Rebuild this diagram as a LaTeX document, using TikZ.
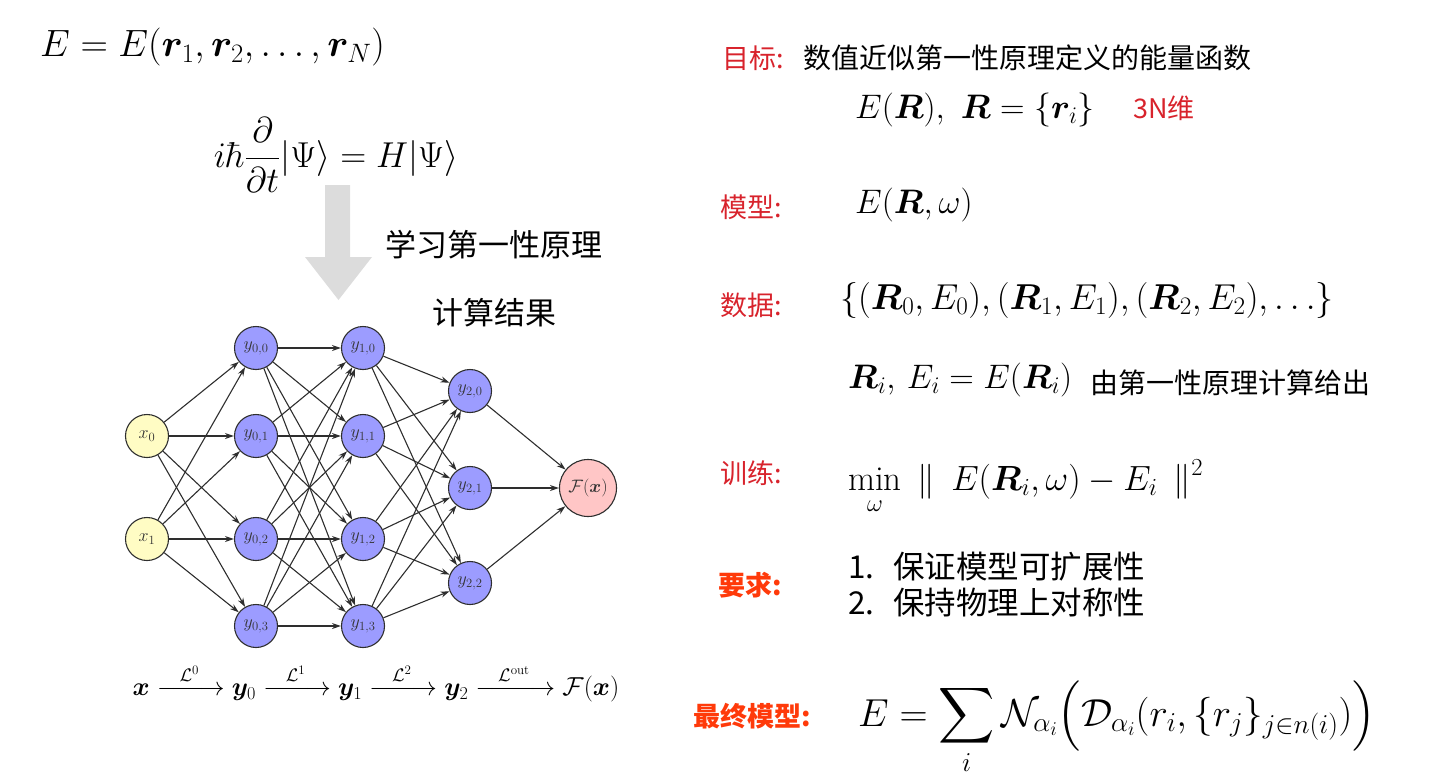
\RequirePackage{fix-cm}
\documentclass[tikz,border=0pt]{standalone}
\usepackage{amsmath,bm}
\DeclareFontShape{OMX}{cmex}{m}{n}{<->cmex10}{}
\usepackage{fontspec}
\newfontfamily\cjk{Noto Sans CJK SC}
\usetikzlibrary{arrows.meta}
\definecolor{lblred}{HTML}{D8232C}
\definecolor{lblorange}{HTML}{FF3A0A}
\definecolor{inyellow}{HTML}{FFFCC4}
\definecolor{hidblue}{HTML}{9C9CFF}
\definecolor{outpink}{HTML}{FFC6C6}
\definecolor{arrowgray}{HTML}{DCDCDC}
\definecolor{edgegray}{HTML}{2E2E2E}
\newcommand{\padarrow}[1]{\xrightarrow{\hspace{17pt}#1\hspace{17pt}}}
\tikzset{
  neuron/.style={circle, draw=edgegray, line width=1.1pt, minimum size=43pt, inner sep=0pt,
    font=\fontsize{18}{18}\selectfont, text=black!80},
  inp/.style={neuron, fill=inyellow},
  hid/.style={neuron, fill=hidblue},
  outn/.style={neuron, fill=outpink, minimum size=57pt},
  conn/.style={-{Stealth[length=9pt,width=6pt]}, line width=1.1pt, draw=edgegray},
  cjktext/.style={font=\cjk\fontsize{28}{28}\selectfont, anchor=west, inner sep=0pt},
  redlbl/.style={cjktext, text=lblred, font=\cjk\fontsize{27}{27}\selectfont},
  orglbl/.style={cjktext, text=lblorange, font=\cjk\bfseries\fontsize{27}{27}\selectfont},
  mathbig/.style={font=\fontsize{34}{40}\selectfont, inner sep=0pt},
}
\begin{document}
\begin{tikzpicture}[x=1pt,y=-1pt]
\useasboundingbox (0,0) rectangle (1445,776);

% left formulas
\node[mathbig, font=\fontsize{38}{44}\selectfont, anchor=west] (eq1) at (40,47) {$E = E(\bm r_1, \bm r_2, \ldots, \bm r_N)$};
\node[mathbig, font=\fontsize{36}{42}\selectfont] (eq2) at (336,155) {$\displaystyle i\hbar\frac{\partial}{\partial t}|\Psi\rangle = H|\Psi\rangle$};

% gray arrow
\fill[arrowgray] (325,185) -- (350,185) -- (350,257) -- (372,257) -- (338.5,300) -- (305,257) -- (325,257) -- cycle;
\node[cjktext, font=\cjk\fontsize{31}{31}\selectfont] (learn) at (385,245) {学习第一性原理};
\node[cjktext, font=\cjk\fontsize{31}{31}\selectfont] (calc) at (432,313) {计算结果};

% network
\node[inp] (x0) at (147,436) {$x_0$};
\node[inp] (x1) at (147,539) {$x_1$};
\node[hid] (y00) at (256,348) {$y_{0,0}$};
\node[hid] (y01) at (256,436) {$y_{0,1}$};
\node[hid] (y02) at (256,539) {$y_{0,2}$};
\node[hid] (y03) at (256,626) {$y_{0,3}$};
\node[hid] (y10) at (363,348) {$y_{1,0}$};
\node[hid] (y11) at (363,436) {$y_{1,1}$};
\node[hid] (y12) at (363,539) {$y_{1,2}$};
\node[hid] (y13) at (363,626) {$y_{1,3}$};
\node[hid] (y20) at (470,391) {$y_{2,0}$};
\node[hid] (y21) at (470,488) {$y_{2,1}$};
\node[hid] (y22) at (470,583) {$y_{2,2}$};
\node[outn] (F) at (588,488) {$\mathcal{F}(\bm x)$};

\foreach \a in {x0,x1}
  \foreach \b in {y00,y01,y02,y03}
    \draw[conn] (\a) -- (\b);
\foreach \a in {y00,y01,y02,y03}
  \foreach \b in {y10,y11,y12,y13}
    \draw[conn] (\a) -- (\b);
\foreach \a in {y10,y11,y12,y13}
  \foreach \b in {y20,y21,y22}
    \draw[conn] (\a) -- (\b);
\foreach \a in {y20,y21,y22}
  \draw[conn] (\a) -- (F);

\node[font=\fontsize{26}{30}\selectfont, inner sep=0pt] (chain) at (376,683)
  {$\bm x \padarrow{\mathcal L^0} \bm y_0 \padarrow{\mathcal L^1} \bm y_1 \padarrow{\mathcal L^2} \bm y_2 \padarrow{\mathcal L^{\mathrm{out}}} \mathcal F(\bm x)$};

% right column
\node[redlbl] (goalL) at (722,58) {目标:};
\node[cjktext] (goalT) at (803,58) {数值近似第一性原理定义的能量函数};
\node[mathbig, anchor=west] (goalM) at (855,110) {$E(\bm R),\ \bm R = \{\bm r_i\}$};
\node[redlbl] (dim) at (1133,108) {3N维};

\node[redlbl] (modelL) at (720,207) {模型:};
\node[mathbig, anchor=west] (modelM) at (855,205) {$E(\bm R, \omega)$};

\node[redlbl] (dataL) at (720,305) {数据:};
\node[mathbig, font=\fontsize{36}{42}\selectfont, anchor=west] (dataM) at (840,300) {$\{(\bm R_0, E_0), (\bm R_1, E_1), (\bm R_2, E_2), \ldots\}$};
\node[mathbig, anchor=west] (dataM2) at (848,380) {$\bm R_i,\, E_i = E(\bm R_i)$};
\node[cjktext] (dataT) at (1090,383) {由第一性原理计算给出};

\node[redlbl] (trainL) at (720,473) {训练:};
\node[mathbig, font=\fontsize{35}{40}\selectfont, anchor=base west] (trainM) at (848,490) {$\displaystyle \min_{\omega}\; \|\ \, E(\bm R_i, \omega) - E_i\ \, \|^2$};

\node[orglbl] (reqL) at (718,585) {要求:};
\node[cjktext, font=\cjk\fontsize{31.5}{31.5}\selectfont] (req1) at (848,567) {\makebox[45pt][l]{1.}保证模型可扩展性};
\node[cjktext, font=\cjk\fontsize{31.5}{31.5}\selectfont] (req2) at (848,603) {\makebox[45pt][l]{2.}保持物理上对称性};

\node[orglbl] (finalL) at (693,716) {最终模型:};
\node[mathbig, font=\fontsize{39}{46}\selectfont, anchor=base west] (finalM) at (858,726)
  {$\displaystyle E = \sum_i \mathcal N_{\alpha_i}\Big(\mathcal D_{\alpha_i}(r_i, \{r_j\}_{j\in n(i)})\Big)$};
\end{tikzpicture}
\end{document}
